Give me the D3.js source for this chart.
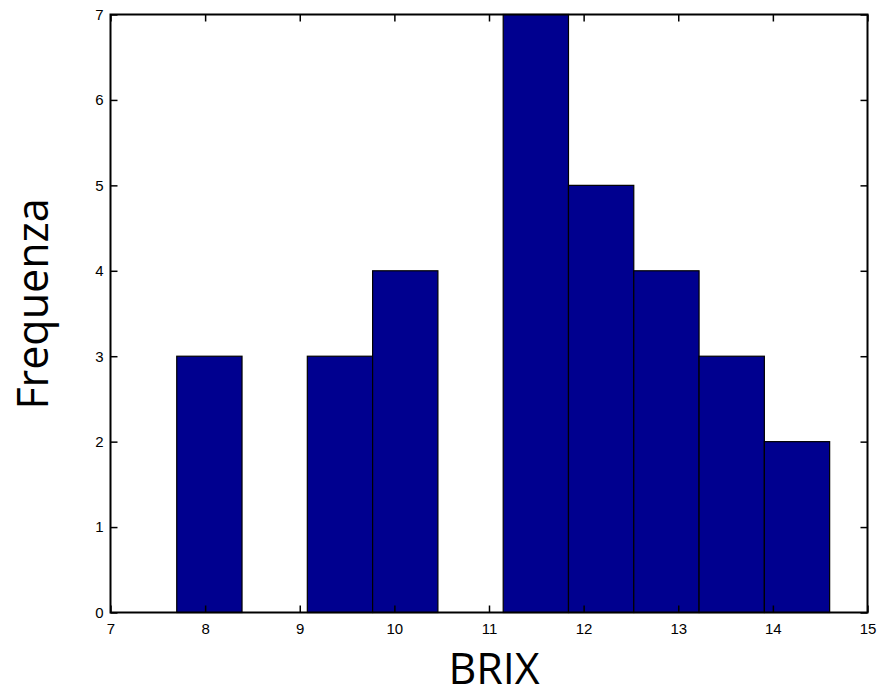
<!DOCTYPE html>
<html>
<head>
<meta charset="utf-8">
<script src="https://cdn.jsdelivr.net/npm/d3@7"></script>
<style>
  html, body { margin: 0; padding: 0; background: #fff; }
  svg { display: block; }
</style>
</head>
<body>
<svg id="chart" width="877" height="689"></svg>
<script>
// Histogram bin edges (BRIX) and counts per bin
const binEdges = [7.70, 8.39, 9.08, 9.77, 10.46, 11.15, 11.84, 12.53, 13.22, 13.91, 14.60];
const counts   = [3, 0, 3, 4, 0, 7, 5, 4, 3, 2];
const xTicks = [7, 8, 9, 10, 11, 12, 13, 14, 15];
const yTicks = [0, 1, 2, 3, 4, 5, 6, 7];
const xLabel = "BRIX";
const yLabel = "Frequenza";

const svg = d3.select("#chart");
const plotL = 110.5, plotR = 867.5, plotT = 14.5, plotB = 612.5;

const x = d3.scaleLinear().domain([7, 15]).range([plotL, plotR]);
const y = d3.scaleLinear().domain([0, 7]).range([plotB, plotT]);

const bins = counts.map((c, i) => ({ x0: binEdges[i], x1: binEdges[i + 1], n: c }));

// bars
svg.append("g").selectAll("rect")
  .data(bins.filter(d => d.n > 0))
  .join("rect")
  .attr("x", d => x(d.x0))
  .attr("y", d => y(d.n))
  .attr("width", d => x(d.x1) - x(d.x0))
  .attr("height", d => y(0) - y(d.n))
  .attr("fill", "#00008f")
  .attr("stroke", "#000")
  .attr("stroke-width", 1.2);

const tickFont = "'Liberation Sans', Arial, sans-serif";
const tickLen = 7;

// bottom axis (ticks inward)
const xb = svg.append("g").attr("transform", `translate(0,${plotB})`)
  .call(d3.axisBottom(x).tickValues(xTicks).tickFormat(d3.format("d"))
    .tickSizeInner(-tickLen).tickSizeOuter(0).tickPadding(11));
// left axis
const yl = svg.append("g").attr("transform", `translate(${plotL},0)`)
  .call(d3.axisLeft(y).tickValues(yTicks).tickFormat(d3.format("d"))
    .tickSizeInner(-tickLen).tickSizeOuter(0).tickPadding(7));
// top and right mirrored ticks
const xt = svg.append("g").attr("transform", `translate(0,${plotT})`)
  .call(d3.axisTop(x).tickValues(xTicks).tickFormat("")
    .tickSizeInner(-tickLen).tickSizeOuter(0));
const yr = svg.append("g").attr("transform", `translate(${plotR},0)`)
  .call(d3.axisRight(y).tickValues(yTicks).tickFormat("")
    .tickSizeInner(-tickLen).tickSizeOuter(0));

[xb, yl, xt, yr].forEach(g => {
  g.select(".domain").remove();
  g.selectAll(".tick line").attr("stroke", "#000").attr("stroke-width", 1.5);
  g.selectAll(".tick text").attr("fill", "#000")
    .style("font-family", tickFont).style("font-size", "15px");
});

// frame
svg.append("rect")
  .attr("x", plotL).attr("y", plotT)
  .attr("width", plotR - plotL).attr("height", plotB - plotT)
  .attr("fill", "none").attr("stroke", "#000").attr("stroke-width", 2);

// axis titles
const titleFont = "'Open Sans', 'Noto Sans', sans-serif";
svg.append("text")
  .attr("x", 494).attr("y", 684)
  .attr("text-anchor", "middle")
  .style("font-family", titleFont).style("font-size", "43px")
  .attr("fill", "#000")
  .text(xLabel);

svg.append("text")
  .attr("transform", "translate(48,304) rotate(-90)")
  .attr("text-anchor", "middle")
  .style("font-family", titleFont).style("font-size", "43px")
  .attr("fill", "#000")
  .text(yLabel);
</script>
</body>
</html>
